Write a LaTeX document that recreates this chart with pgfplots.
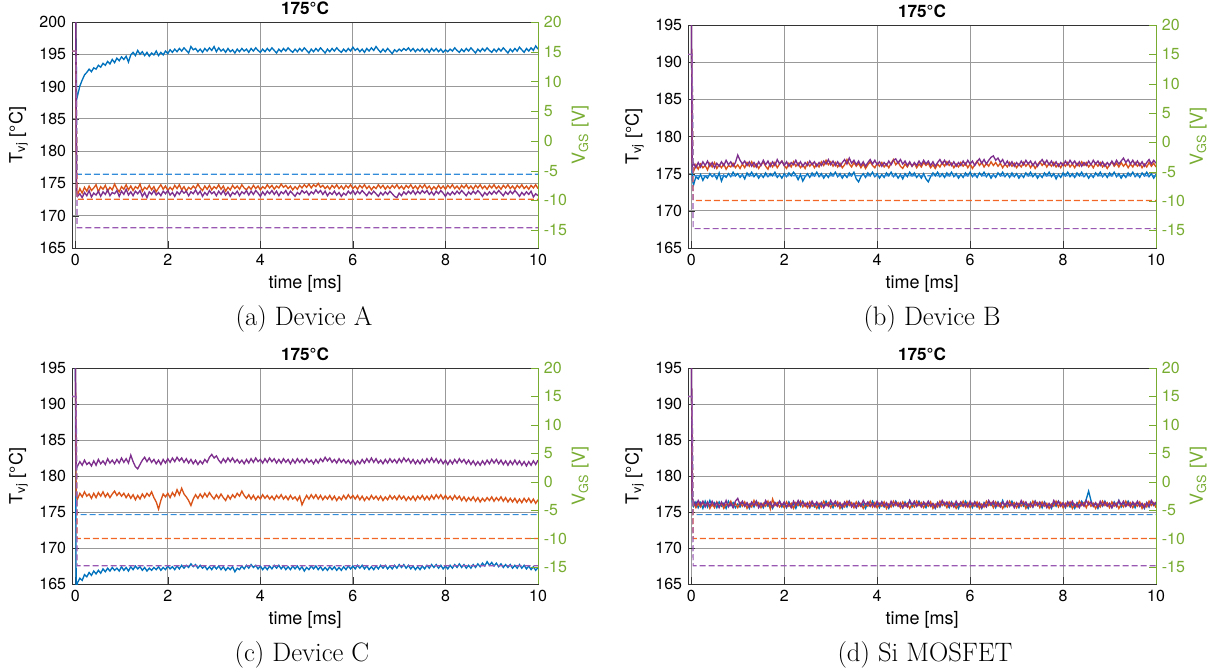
\documentclass[border=0pt]{standalone}
\usepackage{pgfplots}
\usepackage{pgfplotstable}
\pgfplotsset{compat=1.18}
\usepackage{fontspec}
\newfontfamily\hv{TeX Gyre Heros}
\newcommand\tickfont{\hv\fontsize{9.6}{11}\selectfont}
\newcommand\labfont{\hv\fontsize{10.8}{12}\selectfont}
\newcommand\titfont{\hv\bfseries\fontsize{10.3}{12}\selectfont}
\newcommand\capfont{\fontsize{16}{19}\selectfont}
\definecolor{mblue}{rgb}{0,0.447,0.741}
\definecolor{morange}{rgb}{0.85,0.325,0.098}
\definecolor{mpurple}{rgb}{0.494,0.184,0.556}
\definecolor{vgreen}{rgb}{0.466,0.674,0.188}
\definecolor{dblue}{rgb}{0.2,0.55,0.85}
\definecolor{dorange}{rgb}{0.95,0.4,0.15}
\definecolor{dpurple}{rgb}{0.6,0.35,0.7}

\pgfplotstableread{
t b o p
0.00 212 212 212
0.03 188.0 173.6 173.9
0.05 188.6 173.2 173.0
0.10 190.1 174.2 173.4
0.15 191.0 173.5 172.8
0.20 191.8 174.4 173.6
0.25 192.2 173.8 173.1
0.30 192.7 174.6 173.9
0.35 192.3 173.9 172.9
0.40 192.9 174.3 173.5
0.45 192.7 174.8 173.2
0.50 193.3 173.7 173.8
0.55 193.0 174.5 173.0
0.60 193.6 174.1 173.7
0.65 193.3 174.7 173.3
0.70 193.9 173.8 174.0
0.75 193.5 174.4 173.1
0.80 194.2 174.0 173.6
0.85 193.7 174.9 173.4
0.90 194.4 174.2 173.9
0.95 194.0 173.7 173.0
1.00 194.6 174.5 173.8
1.05 194.2 174.1 173.3
1.10 194.7 174.8 174.1
1.15 193.8 174.0 173.2
1.20 194.9 174.6 173.7
1.25 195.3 173.9 173.1
1.30 194.8 174.5 173.8
1.35 195.6 174.2 173.4
1.40 195.0 174.9 173.9
1.45 195.4 173.8 173.0
1.50 194.8 174.4 173.6
1.55 195.3 174.1 172.8
1.60 194.7 174.7 173.7
1.65 195.2 174.0 173.3
1.70 194.9 174.5 173.9
1.75 195.5 173.7 173.2
1.80 194.8 174.3 173.6
1.85 195.3 174.8 173.1
1.90 194.9 174.1 173.8
1.95 195.5 174.6 173.4
2.00 195.1 173.9 173.9
2.05 195.7 174.4 173.2
2.10 195.3 174.0 173.6
2.15 195.8 174.7 173.0
2.20 195.4 174.2 173.7
2.25 195.9 174.8 173.3
2.30 195.5 174.0 173.9
2.35 196.0 174.5 173.5
2.40 195.6 173.8 173.8
2.45 195.2 174.4 173.1
2.50 196.2 174.1 173.7
2.55 195.7 174.6 173.4
2.60 195.9 174.2 174.0
2.65 195.4 174.9 173.3
2.70 195.8 174.3 173.8
2.75 195.3 173.9 173.0
2.80 195.9 174.6 173.6
2.85 195.5 174.1 173.2
2.90 196.0 174.7 173.9
2.95 195.6 174.0 173.4
3.00 196.2 174.5 173.7
3.05 195.4 174.2 173.1
3.10 196.0 174.8 173.8
3.15 195.5 174.1 173.3
3.20 195.8 174.6 173.9
3.25 195.3 173.8 173.2
3.30 195.9 174.4 173.7
3.35 195.4 174.0 173.0
3.40 195.7 174.7 173.6
3.45 195.2 174.2 173.3
3.50 195.8 174.6 173.8
3.55 195.4 174.1 173.1
3.60 195.9 174.8 173.7
3.65 195.5 174.3 173.4
3.70 195.8 174.0 173.9
3.75 195.3 174.5 173.2
3.80 195.9 174.1 173.8
3.85 195.5 174.7 173.3
3.90 196.0 174.2 173.9
3.95 195.6 174.6 173.5
4.00 195.3 174.0 173.0
4.05 195.8 174.5 173.7
4.10 195.4 174.2 173.2
4.15 195.9 174.8 173.8
4.20 195.5 174.3 173.4
4.25 196.0 174.7 173.9
4.30 195.6 174.1 173.3
4.35 195.2 174.6 173.8
4.40 195.8 174.3 173.1
4.45 195.4 174.9 173.7
4.50 195.9 174.4 173.4
4.55 195.5 174.7 173.9
4.60 196.0 174.2 173.2
4.65 195.6 174.6 173.8
4.70 195.3 174.0 173.4
4.75 195.8 174.5 173.0
4.80 195.4 174.1 173.6
4.85 195.9 174.7 173.3
4.90 195.5 174.3 173.9
4.95 196.0 174.8 173.5
5.00 195.6 174.4 173.8
5.05 195.2 174.9 173.2
5.10 195.8 174.3 173.7
5.15 195.4 174.8 173.4
5.20 195.9 174.5 174.0
5.25 195.5 175.0 173.5
5.30 196.0 174.4 173.9
5.35 195.6 174.7 173.3
5.40 195.2 174.2 173.8
5.45 195.8 174.6 173.1
5.50 195.4 174.1 173.6
5.55 195.9 174.7 173.3
5.60 195.5 174.3 173.8
5.65 196.0 174.8 173.2
5.70 195.6 174.2 173.6
5.75 195.3 174.6 173.0
5.80 195.8 174.1 173.5
5.85 195.4 174.7 173.2
5.90 195.9 174.3 173.8
5.95 195.5 174.8 173.4
6.00 196.1 174.2 173.9
6.05 195.6 174.6 173.3
6.10 195.9 174.1 173.8
6.15 195.4 174.7 173.4
6.20 195.8 174.3 173.9
6.25 195.3 174.8 173.5
6.30 195.9 174.2 173.1
6.35 195.5 174.6 173.7
6.40 196.0 174.0 173.3
6.45 195.6 174.5 173.8
6.50 196.2 174.2 173.4
6.55 195.7 174.8 173.0
6.60 195.3 174.3 173.6
6.65 195.8 174.7 173.2
6.70 195.4 174.1 173.7
6.75 195.9 174.6 173.3
6.80 195.5 174.2 173.8
6.85 195.1 174.7 173.4
6.90 195.7 174.3 173.0
6.95 195.4 174.8 172.8
7.00 195.8 174.2 173.5
7.05 195.5 174.6 173.1
7.10 195.9 174.1 173.7
7.15 195.6 174.7 173.3
7.20 196.0 174.3 173.8
7.25 195.5 174.8 173.4
7.30 195.9 174.2 173.9
7.35 195.4 174.6 173.3
7.40 195.8 174.1 173.8
7.45 195.5 174.7 173.4
7.50 195.9 174.3 173.9
7.55 195.4 174.8 173.5
7.60 195.8 174.2 173.9
7.65 195.3 174.6 173.3
7.70 195.9 174.0 173.7
7.75 195.5 174.5 173.2
7.80 195.9 174.1 173.8
7.85 195.4 174.7 173.4
7.90 195.8 174.2 173.9
7.95 195.3 174.6 173.5
8.00 195.7 174.1 173.0
8.05 195.4 174.7 173.6
8.10 195.8 174.3 173.2
8.15 195.5 174.8 173.7
8.20 196.0 174.2 173.3
8.25 195.6 174.6 173.8
8.30 195.3 174.1 173.4
8.35 195.8 174.7 173.9
8.40 195.4 174.3 173.5
8.45 195.9 174.8 173.1
8.50 195.5 174.2 173.7
8.55 196.0 174.6 173.3
8.60 195.6 174.1 173.8
8.65 195.2 174.7 173.4
8.70 195.8 174.3 173.9
8.75 195.4 174.8 173.5
8.80 195.9 174.2 173.0
8.85 195.5 174.6 173.6
8.90 196.0 174.1 173.2
8.95 195.6 174.7 173.7
9.00 195.3 174.3 173.3
9.05 195.8 174.8 173.8
9.10 195.4 174.2 173.4
9.15 195.9 174.6 173.9
9.20 195.5 174.1 173.5
9.25 196.0 174.7 173.1
9.30 195.6 174.3 173.7
9.35 195.2 174.8 173.3
9.40 195.8 174.2 173.8
9.45 195.4 174.6 173.4
9.50 195.9 174.1 173.9
9.55 195.5 174.7 173.5
9.60 196.1 174.3 173.0
9.65 195.7 174.8 173.6
9.70 195.3 174.2 173.2
9.75 195.9 174.6 173.7
9.80 195.5 174.1 173.3
9.85 196.0 174.7 173.8
9.90 195.6 174.3 172.9
9.95 196.3 174.8 173.4
10.00 195.8 174.2 173.1
}\tA

\pgfplotstableread{
t b o p
0.00 200 200 200
0.02 174.2 175.6 175.9
0.05 173.5 175.3 176.4
0.10 174.6 176.2 175.8
0.15 174.3 175.6 176.5
0.20 174.9 176.3 175.9
0.25 174.1 175.8 176.6
0.30 174.7 176.1 176.1
0.35 174.4 175.5 176.7
0.40 175.0 176.4 176.0
0.45 174.6 175.9 176.5
0.50 174.9 176.5 175.8
0.55 174.3 175.7 176.4
0.60 175.1 176.2 176.0
0.65 174.0 175.8 176.6
0.70 174.8 176.3 176.1
0.75 174.5 175.6 176.8
0.80 175.0 176.1 176.2
0.85 174.6 175.9 176.6
0.90 175.2 176.4 176.0
0.95 174.7 175.8 176.5
1.00 175.0 176.2 177.5
1.05 174.5 175.7 176.8
1.10 174.9 176.3 176.3
1.15 174.3 175.8 176.7
1.20 175.1 176.5 176.1
1.25 174.7 176.0 176.6
1.30 175.2 176.6 176.0
1.35 174.6 175.9 176.5
1.40 175.0 176.3 175.9
1.45 174.4 175.7 176.6
1.50 174.9 176.2 176.1
1.55 174.5 176.6 176.8
1.60 175.1 176.0 176.2
1.65 174.6 175.6 176.7
1.70 175.0 176.4 176.0
1.75 174.7 175.9 176.6
1.80 175.2 176.5 176.1
1.85 174.5 175.8 176.9
1.90 174.9 176.3 176.3
1.95 174.4 176.7 176.7
2.00 175.0 176.1 176.1
2.05 174.6 175.7 176.6
2.10 175.1 176.4 176.0
2.15 174.7 175.9 176.5
2.20 175.2 176.6 176.2
2.25 174.8 176.0 176.8
2.30 174.2 176.4 176.1
2.35 174.9 175.8 176.6
2.40 174.0 176.2 176.0
2.45 174.6 175.7 176.5
2.50 175.0 176.5 176.1
2.55 174.5 176.0 176.7
2.60 175.1 176.4 176.2
2.65 174.7 175.8 176.6
2.70 175.2 176.3 176.0
2.75 174.6 175.9 176.5
2.80 175.0 176.6 176.1
2.85 174.4 176.1 176.7
2.90 174.9 176.8 176.3
2.95 174.5 176.2 176.9
3.00 175.1 176.6 176.2
3.05 174.7 176.0 176.7
3.10 175.2 176.5 176.1
3.15 174.6 175.9 176.6
3.20 175.0 176.4 176.0
3.25 174.4 175.8 176.5
3.30 174.9 176.2 176.9
3.35 174.5 176.9 176.3
3.40 175.1 176.3 177.1
3.45 174.7 175.9 176.4
3.50 175.2 176.5 176.8
3.55 174.3 176.0 176.2
3.60 173.9 176.4 176.7
3.65 174.6 175.8 176.1
3.70 175.0 176.3 176.6
3.75 174.5 175.7 176.0
3.80 175.1 176.2 176.5
3.85 174.7 176.6 176.9
3.90 175.2 176.1 176.3
3.95 174.6 175.8 176.8
4.00 175.0 176.4 176.2
4.05 174.4 176.0 176.6
4.10 174.9 176.5 176.0
4.15 174.5 175.9 176.5
4.20 175.1 176.3 176.1
4.25 174.7 175.8 176.7
4.30 175.2 176.4 176.2
4.35 174.6 176.9 176.8
4.40 175.0 176.2 177.0
4.45 174.4 176.6 176.4
4.50 174.9 176.0 176.9
4.55 174.3 175.7 176.3
4.60 175.0 176.3 176.7
4.65 174.6 175.9 176.1
4.70 175.2 176.5 176.6
4.75 174.7 176.0 176.0
4.80 175.1 176.4 176.5
4.85 174.5 175.8 176.1
4.90 174.9 176.3 176.7
4.95 174.4 175.9 176.2
5.00 175.0 176.5 176.8
5.05 174.3 176.1 176.3
5.10 173.9 176.4 176.7
5.15 174.6 175.8 176.1
5.20 175.1 176.2 176.6
5.25 174.7 175.7 176.0
5.30 175.2 176.3 176.5
5.35 174.6 175.9 176.9
5.40 175.0 176.5 176.3
5.45 174.5 176.0 176.8
5.50 175.1 176.6 176.2
5.55 174.7 176.1 176.7
5.60 175.2 176.4 176.1
5.65 174.6 175.8 176.6
5.70 175.0 176.3 176.0
5.75 174.4 175.9 176.5
5.80 174.9 176.5 176.1
5.85 174.5 176.0 176.7
5.90 175.1 176.4 176.2
5.95 174.7 175.8 176.8
6.00 175.2 176.3 176.3
6.05 174.6 175.7 176.7
6.10 175.0 176.2 176.1
6.15 174.5 176.7 176.6
6.20 175.1 176.1 177.0
6.25 174.7 176.5 176.4
6.30 175.2 175.9 176.9
6.35 174.6 176.4 176.3
6.40 175.0 176.0 176.8
6.45 174.4 176.6 177.2
6.50 174.9 176.1 177.4
6.55 174.5 176.5 176.8
6.60 175.1 176.0 177.1
6.65 174.7 176.4 176.5
6.70 175.2 175.8 176.9
6.75 174.6 176.3 176.2
6.80 175.0 175.9 176.7
6.85 174.5 176.5 176.1
6.90 175.1 176.0 176.6
6.95 174.6 176.4 176.0
7.00 175.0 175.8 176.5
7.05 174.4 176.3 176.1
7.10 174.9 175.9 176.7
7.15 174.5 176.5 176.2
7.20 175.1 176.0 176.8
7.25 174.7 176.4 176.3
7.30 175.2 175.8 176.7
7.35 174.6 176.3 176.1
7.40 175.0 175.7 176.6
7.45 174.4 176.2 176.0
7.50 174.9 176.6 176.5
7.55 174.5 176.1 176.9
7.60 175.1 176.5 176.3
7.65 174.7 175.9 176.8
7.70 175.2 176.4 176.2
7.75 174.6 176.0 176.7
7.80 175.0 176.5 176.1
7.85 174.3 175.9 176.6
7.90 174.9 176.3 176.0
7.95 174.5 175.8 176.5
8.00 175.1 176.4 176.1
8.05 174.7 176.0 176.7
8.10 175.2 176.5 176.2
8.15 174.6 175.9 176.8
8.20 175.0 176.3 176.3
8.25 174.5 175.8 176.7
8.30 175.1 176.4 176.1
8.35 174.7 176.0 176.6
8.40 175.2 176.6 176.0
8.45 174.6 176.1 176.5
8.50 175.0 176.5 176.1
8.55 174.4 175.9 176.7
8.60 174.9 176.3 176.2
8.65 174.5 175.8 176.8
8.70 175.1 176.4 176.3
8.75 174.7 176.0 176.7
8.80 175.2 176.5 176.1
8.85 174.6 175.9 176.6
8.90 175.0 176.3 176.0
8.95 174.5 175.7 176.5
9.00 175.1 176.2 176.1
9.05 174.7 176.6 176.7
9.10 175.2 176.0 176.2
9.15 174.6 176.4 176.8
9.20 175.0 175.9 176.3
9.25 174.4 176.5 176.7
9.30 174.9 176.0 177.1
9.35 174.5 176.4 176.5
9.40 175.1 175.8 176.9
9.45 174.7 176.3 176.3
9.50 175.2 175.9 176.8
9.55 174.6 176.5 176.2
9.60 175.0 176.0 176.7
9.65 174.5 176.4 176.1
9.70 175.1 175.8 176.6
9.75 174.7 176.3 176.0
9.80 175.2 175.9 176.5
9.85 174.6 176.5 176.9
9.90 175.0 176.0 176.3
9.95 174.4 176.4 176.8
10.00 174.9 175.9 176.4
}\tB

\pgfplotstableread{
t b o p
0.00 200 200 200
0.02 164.0 177.3 181.0
0.05 165.2 176.8 181.4
0.10 165.8 177.6 182.0
0.15 165.5 177.1 181.5
0.20 166.3 177.8 182.2
0.25 166.0 177.2 181.6
0.30 166.6 177.5 181.9
0.35 166.2 176.9 181.4
0.40 166.8 177.6 182.1
0.45 166.4 177.0 181.5
0.50 166.9 177.7 182.3
0.55 166.5 177.2 181.7
0.60 167.1 177.8 182.1
0.65 166.7 177.1 181.6
0.70 167.2 177.6 182.4
0.75 166.8 177.0 181.8
0.80 167.3 177.5 182.2
0.85 166.9 177.9 181.7
0.90 167.2 177.3 182.3
0.95 166.8 177.7 181.8
1.00 167.4 177.2 182.5
1.05 166.9 177.6 181.9
1.10 167.3 177.0 182.4
1.15 166.8 177.5 181.8
1.20 167.4 176.9 182.9
1.25 167.0 177.4 182.0
1.30 167.5 176.7 181.3
1.35 167.1 177.3 181.0
1.40 167.4 176.8 181.6
1.45 166.9 177.5 182.2
1.50 167.3 177.0 182.6
1.55 166.8 177.6 182.0
1.60 167.2 177.2 182.5
1.65 166.9 177.8 181.9
1.70 167.3 177.0 182.3
1.75 167.0 176.4 181.7
1.80 167.4 175.4 182.2
1.85 166.9 176.6 181.6
1.90 167.3 177.5 182.3
1.95 167.0 177.1 181.8
2.00 167.5 177.6 182.4
2.05 167.1 177.0 181.9
2.10 167.4 177.7 182.5
2.15 167.0 177.2 182.0
2.20 167.5 178.1 182.6
2.25 167.1 177.4 182.1
2.30 167.6 178.3 182.5
2.35 167.2 177.5 181.9
2.40 167.6 177.1 182.4
2.45 167.3 176.6 181.8
2.50 167.8 175.9 182.3
2.55 167.4 176.8 181.7
2.60 167.7 177.4 182.2
2.65 167.2 176.9 181.6
2.70 167.6 177.5 182.1
2.75 167.2 177.0 181.7
2.80 167.5 177.6 182.3
2.85 167.0 177.1 181.9
2.90 167.4 177.7 182.6
2.95 167.0 177.2 183.0
3.00 167.5 176.8 182.5
3.05 167.1 177.4 182.8
3.10 167.5 176.9 182.2
3.15 167.0 177.5 181.8
3.20 167.4 177.0 182.4
3.25 166.9 176.6 181.9
3.30 167.3 177.3 182.5
3.35 167.0 176.8 182.0
3.40 167.4 177.4 182.5
3.45 166.7 177.0 181.9
3.50 167.2 177.6 182.3
3.55 167.0 177.2 181.8
3.60 167.5 177.9 182.2
3.65 167.1 177.3 181.7
3.70 167.6 176.9 182.3
3.75 167.2 177.4 181.8
3.80 167.7 176.8 182.4
3.85 167.3 177.3 181.9
3.90 167.6 176.7 182.5
3.95 167.1 177.2 182.0
4.00 167.5 176.8 182.3
4.05 167.0 177.4 181.8
4.10 167.4 176.9 182.4
4.15 167.0 177.3 181.9
4.20 167.5 176.8 182.5
4.25 167.1 177.2 182.0
4.30 167.6 176.7 182.4
4.35 167.2 177.3 181.8
4.40 167.6 176.9 182.3
4.45 167.1 177.4 181.8
4.50 167.5 176.8 182.4
4.55 167.0 177.2 181.9
4.60 167.4 176.7 182.3
4.65 167.0 177.3 181.7
4.70 167.5 176.8 182.3
4.75 167.1 177.1 181.8
4.80 167.5 176.6 182.4
4.85 167.0 177.2 181.9
4.90 167.4 176.0 182.3
4.95 166.8 176.7 181.8
5.00 167.3 177.3 182.4
5.05 167.0 176.8 181.9
5.10 167.5 177.4 182.2
5.15 167.1 176.9 181.7
5.20 167.5 177.4 182.3
5.25 167.0 176.8 181.8
5.30 167.4 177.3 182.4
5.35 166.9 176.7 182.0
5.40 167.3 177.2 182.6
5.45 166.9 176.8 182.1
5.50 167.4 177.3 182.5
5.55 167.0 176.7 181.9
5.60 167.4 177.2 182.3
5.65 166.9 176.6 181.8
5.70 167.3 177.1 182.4
5.75 166.9 176.7 181.9
5.80 167.4 177.3 182.3
5.85 167.0 176.8 181.8
5.90 167.5 177.4 182.2
5.95 167.1 176.9 181.7
6.00 167.5 177.3 182.2
6.05 167.1 176.8 181.6
6.10 167.6 177.3 182.1
6.15 167.2 176.7 181.7
6.20 167.6 177.2 182.3
6.25 167.1 176.6 181.8
6.30 167.5 177.1 182.4
6.35 167.0 176.7 181.9
6.40 167.4 177.3 182.5
6.45 167.0 176.8 181.9
6.50 167.5 177.2 182.4
6.55 167.1 176.7 181.8
6.60 167.6 177.2 182.2
6.65 167.2 176.6 181.7
6.70 167.6 177.1 182.3
6.75 167.1 176.7 181.8
6.80 167.5 177.3 182.4
6.85 167.1 176.8 181.9
6.90 167.6 177.2 182.3
6.95 167.2 176.7 181.8
7.00 167.7 177.3 182.4
7.05 167.3 176.8 181.9
7.10 167.7 177.2 182.5
7.15 167.2 176.6 182.0
7.20 167.6 177.1 182.4
7.25 167.1 176.7 181.8
7.30 167.5 177.2 182.3
7.35 167.0 176.6 181.7
7.40 167.4 177.2 182.2
7.45 167.0 176.8 181.7
7.50 167.5 177.3 182.3
7.55 167.1 176.7 181.8
7.60 167.6 177.2 182.4
7.65 167.2 176.7 181.9
7.70 167.7 177.3 182.5
7.75 167.3 176.8 181.9
7.80 167.7 177.4 182.4
7.85 167.2 176.9 181.8
7.90 167.6 177.4 182.3
7.95 167.1 176.8 181.7
8.00 167.5 177.3 182.2
8.05 167.1 176.8 181.6
8.10 167.6 177.2 182.2
8.15 167.2 176.7 181.7
8.20 167.7 177.3 182.3
8.25 167.3 176.8 181.8
8.30 167.8 177.2 182.4
8.35 167.3 176.6 181.9
8.40 167.7 177.1 182.3
8.45 167.2 176.5 181.7
8.50 167.6 177.0 182.2
8.55 167.2 176.6 181.6
8.60 167.7 177.1 182.1
8.65 167.3 176.5 181.5
8.70 167.8 177.0 182.0
8.75 167.4 176.4 181.5
8.80 167.9 176.9 182.1
8.85 167.5 176.5 181.6
8.90 168.1 177.0 182.2
8.95 167.6 176.6 181.7
9.00 168.0 177.1 182.3
9.05 167.5 176.5 181.8
9.10 167.9 177.0 182.3
9.15 167.4 176.6 181.7
9.20 167.8 177.1 182.2
9.25 167.3 176.5 181.6
9.30 167.7 177.0 182.1
9.35 167.3 176.4 181.5
9.40 167.7 176.9 182.1
9.45 167.2 176.4 181.6
9.50 167.6 176.9 182.2
9.55 167.2 176.3 181.6
9.60 167.7 176.8 182.1
9.65 167.2 176.3 181.5
9.70 167.6 176.9 182.0
9.75 167.1 176.4 181.4
9.80 167.5 176.9 182.0
9.85 167.0 176.3 181.5
9.90 167.4 176.8 182.1
9.95 166.9 176.2 181.6
10.00 167.3 176.7 182.2
}\tC

\pgfplotstableread{
t b o p
0.00 200 200 200
0.02 176.5 176.8 177.0
0.05 175.8 176.3 176.5
0.10 176.4 175.6 175.9
0.15 175.6 176.2 176.6
0.20 176.3 175.7 176.0
0.25 175.5 176.4 176.5
0.30 176.5 175.8 175.7
0.35 175.7 176.3 176.4
0.40 176.6 175.5 175.8
0.45 175.9 176.1 176.5
0.50 176.3 175.6 175.9
0.55 175.6 176.4 176.3
0.60 176.4 175.8 175.6
0.65 175.8 176.2 176.4
0.70 176.2 175.5 175.9
0.75 175.5 176.1 176.6
0.80 176.5 175.9 175.7
0.85 175.9 176.5 176.2
0.90 176.3 175.7 175.6
0.95 175.6 176.2 176.5
1.00 176.1 175.6 176.9
1.05 175.7 176.3 176.0
1.10 176.4 175.8 176.5
1.15 175.8 176.4 175.8
1.20 176.2 175.5 176.3
1.25 175.5 176.1 175.7
1.30 176.3 175.7 176.4
1.35 175.7 176.6 175.9
1.40 176.5 175.9 176.5
1.45 175.9 176.3 175.6
1.50 176.2 175.6 176.2
1.55 175.6 176.2 175.8
1.60 176.4 175.8 176.6
1.65 175.8 176.5 176.0
1.70 176.1 175.4 176.4
1.75 175.5 176.8 175.7
1.80 176.3 175.9 176.3
1.85 175.9 176.3 175.8
1.90 176.5 175.7 176.5
1.95 175.7 176.1 175.9
2.00 176.2 175.6 176.4
2.05 175.6 176.4 175.7
2.10 176.4 175.8 176.2
2.15 175.8 176.2 175.6
2.20 176.1 175.5 176.5
2.25 175.5 176.3 175.9
2.30 176.3 175.9 176.6
2.35 175.8 176.5 176.0
2.40 176.5 175.7 176.4
2.45 175.9 176.2 175.8
2.50 176.2 175.6 176.3
2.55 175.6 176.4 175.7
2.60 176.4 175.8 176.5
2.65 175.7 176.1 175.9
2.70 176.1 175.5 176.4
2.75 175.5 176.2 175.8
2.80 176.3 175.7 176.3
2.85 175.8 176.5 175.6
2.90 176.5 175.9 176.2
2.95 175.9 176.3 175.8
3.00 176.2 175.6 176.6
3.05 175.6 176.2 176.0
3.10 176.4 175.8 176.5
3.15 175.8 176.4 175.8
3.20 176.1 175.5 176.3
3.25 175.5 176.1 175.7
3.30 176.3 175.7 176.4
3.35 175.7 176.5 175.9
3.40 176.5 175.9 176.5
3.45 175.9 176.3 175.7
3.50 176.2 175.6 176.2
3.55 175.6 176.4 175.6
3.60 176.4 175.8 176.3
3.65 175.8 176.2 175.8
3.70 176.1 175.5 176.6
3.75 175.5 176.1 176.0
3.80 176.3 175.8 176.4
3.85 175.8 176.5 175.8
3.90 176.5 175.7 176.2
3.95 175.9 176.3 175.7
4.00 176.2 175.6 176.5
4.05 175.6 176.2 175.9
4.10 176.4 175.8 176.4
4.15 175.7 176.4 175.8
4.20 176.1 175.5 176.3
4.25 175.5 176.1 175.7
4.30 176.3 175.7 176.5
4.35 175.8 176.5 175.9
4.40 176.5 175.9 176.4
4.45 175.9 176.3 175.8
4.50 176.2 175.6 176.3
4.55 175.6 176.4 175.6
4.60 176.4 175.8 176.2
4.65 175.8 176.2 175.7
4.70 176.6 175.5 176.6
4.75 175.7 176.1 176.0
4.80 176.3 175.7 176.5
4.85 175.8 176.5 175.8
4.90 176.5 175.9 176.3
4.95 175.9 176.3 175.7
5.00 176.2 175.6 176.4
5.05 175.6 176.2 175.9
5.10 176.4 175.8 176.5
5.15 175.8 176.4 175.8
5.20 176.1 175.5 176.2
5.25 175.5 176.1 175.6
5.30 176.3 175.7 176.3
5.35 175.7 176.5 175.8
5.40 176.5 175.9 176.6
5.45 175.9 176.3 176.0
5.50 176.2 175.6 176.4
5.55 175.6 176.4 175.8
5.60 176.4 175.8 176.3
5.65 175.8 176.2 175.7
5.70 176.1 175.5 176.5
5.75 175.5 176.1 175.9
5.80 176.3 175.8 176.4
5.85 175.8 176.5 175.8
5.90 176.5 175.7 176.2
5.95 175.9 176.3 175.7
6.00 176.2 175.6 176.5
6.05 175.6 176.2 175.9
6.10 176.4 175.8 176.4
6.15 175.7 176.4 175.8
6.20 176.1 175.5 176.3
6.25 175.5 176.1 175.6
6.30 176.3 175.7 176.2
6.35 175.8 176.5 175.7
6.40 176.5 175.9 176.6
6.45 175.9 176.3 176.0
6.50 176.2 175.6 176.5
6.55 175.6 176.4 175.8
6.60 176.4 175.8 176.3
6.65 175.8 176.2 175.7
6.70 176.6 175.5 176.4
6.75 175.7 176.1 175.9
6.80 176.3 175.7 176.5
6.85 175.8 176.5 175.8
6.90 176.5 175.9 176.2
6.95 175.9 176.3 175.6
7.00 176.2 175.6 176.3
7.05 175.6 176.2 175.8
7.10 176.4 175.8 176.6
7.15 175.8 176.4 176.0
7.20 176.1 175.5 176.4
7.25 175.5 176.1 175.8
7.30 176.3 175.7 176.2
7.35 175.7 176.5 175.7
7.40 176.5 175.9 176.5
7.45 175.9 176.3 175.9
7.50 176.2 175.6 176.4
7.55 175.6 176.4 175.8
7.60 176.4 175.8 176.3
7.65 175.8 176.2 175.6
7.70 176.1 175.5 176.2
7.75 175.5 176.1 175.7
7.80 176.3 175.8 176.6
7.85 175.8 176.5 176.0
7.90 176.5 175.7 176.5
7.95 175.9 176.3 175.8
8.00 176.2 175.6 176.3
8.05 175.6 176.2 175.7
8.10 176.4 175.8 176.4
8.15 175.7 176.4 175.9
8.20 176.1 175.5 176.5
8.25 175.5 176.1 175.8
8.30 176.3 175.7 176.2
8.35 175.8 176.5 175.6
8.40 176.5 175.9 176.3
8.45 176.0 176.3 175.8
8.50 176.8 175.6 176.6
8.55 177.9 176.4 176.0
8.60 176.6 175.8 176.4
8.65 175.8 176.2 175.8
8.70 176.2 175.5 176.3
8.75 175.5 176.1 175.7
8.80 176.3 175.7 176.5
8.85 175.8 176.5 175.9
8.90 176.5 175.9 176.4
8.95 175.9 176.3 175.8
9.00 176.2 175.6 176.2
9.05 175.6 176.4 175.6
9.10 176.4 175.8 176.3
9.15 175.8 176.2 175.8
9.20 176.6 175.5 176.6
9.25 175.7 176.1 176.0
9.30 176.3 175.7 176.5
9.35 175.8 176.5 175.8
9.40 176.5 175.9 176.3
9.45 175.9 176.3 175.7
9.50 176.2 175.6 176.4
9.55 175.6 176.2 175.9
9.60 176.4 175.8 176.5
9.65 175.8 176.4 175.8
9.70 176.1 175.5 176.2
9.75 175.5 176.1 175.6
9.80 176.3 175.7 176.3
9.85 175.7 176.5 175.8
9.90 176.5 175.9 176.6
9.95 175.9 176.3 176.0
10.00 176.2 175.6 176.4
}\tD

\pgfplotsset{
  leftax/.style={scale only axis, xmin=-0.07, xmax=10, xtick={0,2,...,10},
    ytick distance=5, grid=major, major grid style={black!40, line width=0.5pt},
    tick align=inside, ytick pos=left, xtick pos=bottom,
    axis line style={black!80, line width=0.6pt}, tick style={black!80},
    ticklabel style={font=\tickfont}, label style={font=\labfont},
    title style={font=\titfont, yshift=-5pt},
    xlabel={time [ms]}, ylabel={T\textsubscript{vj} [°C]}, title={175°C},
    xlabel style={yshift=1pt}, ylabel style={yshift=0pt},
    /pgf/number format/assume math mode=true},
  rightax/.style={scale only axis, xmin=-0.07, xmax=10, ymin=-18, ymax=20,
    ytick={-15,-10,...,20}, axis y line*=right, axis x line=none,
    tick align=inside, y axis line style={vgreen, line width=0.6pt},
    ytick style={vgreen}, yticklabel style={vgreen, font=\tickfont},
    ylabel={V\textsubscript{GS} [V]}, ylabel style={vgreen, font=\labfont, yshift=4pt},
    /pgf/number format/assume math mode=true},
  sl/.style={line width=0.8pt},
  dl/.style={line width=0.7pt, dash pattern=on 3.6pt off 1.8pt},
}

\begin{document}
\begin{tikzpicture}
\useasboundingbox (0,0) rectangle (727.8pt,-402pt);
% (a)
\begin{axis}[leftax, at={(72*0.6pt,-22*0.6pt)}, anchor=north west, width=466*0.6pt, height=226*0.6pt, ymin=165, ymax=200]
\addplot[sl, mblue] table[x=t, y=b] {\tA};
\addplot[sl, morange] table[x=t, y=o] {\tA};
\addplot[sl, mpurple] table[x=t, y=p] {\tA};
\end{axis}
\begin{axis}[rightax, at={(72*0.6pt,-22*0.6pt)}, anchor=north west, width=466*0.6pt, height=226*0.6pt]
\addplot[dl, dblue] coordinates {(-0.07,15.1) (0.02,15.1) (0.04,-5.6) (10,-5.6)};
\addplot[dl, dorange] coordinates {(-0.07,15.1) (0.02,15.1) (0.04,-9.8) (10,-9.8)};
\addplot[dl, dpurple] coordinates {(-0.07,15.1) (0.02,15.1) (0.04,-14.6) (10,-14.6)};
\end{axis}
\node[font=\capfont] at (304*0.6pt,-319*0.6pt) {(a) Device A};
% (b)
\begin{axis}[leftax, at={(688*0.6pt,-25*0.6pt)}, anchor=north west, width=468*0.6pt, height=223*0.6pt, ymin=165, ymax=195]
\addplot[sl, mblue] table[x=t, y=b] {\tB};
\addplot[sl, morange] table[x=t, y=o] {\tB};
\addplot[sl, mpurple] table[x=t, y=p] {\tB};
\end{axis}
\begin{axis}[rightax, at={(688*0.6pt,-25*0.6pt)}, anchor=north west, width=468*0.6pt, height=223*0.6pt]
\addplot[dl, dblue] coordinates {(-0.07,15) (0.02,15) (0.04,-5.7) (10,-5.7)};
\addplot[dl, dorange] coordinates {(-0.07,15) (0.02,15) (0.04,-9.9) (10,-9.9)};
\addplot[dl, dpurple] coordinates {(-0.07,15) (0.02,15) (0.04,-14.7) (10,-14.7)};
\end{axis}
\node[font=\capfont] at (932*0.6pt,-319*0.6pt) {(b) Device B};
% (c)
\begin{axis}[leftax, at={(72*0.6pt,-368*0.6pt)}, anchor=north west, width=466*0.6pt, height=216*0.6pt, ymin=165, ymax=195]
\addplot[sl, mblue] table[x=t, y=b] {\tC};
\addplot[sl, morange] table[x=t, y=o] {\tC};
\addplot[sl, mpurple] table[x=t, y=p] {\tC};
\end{axis}
\begin{axis}[rightax, at={(72*0.6pt,-368*0.6pt)}, anchor=north west, width=466*0.6pt, height=216*0.6pt]
\addplot[dl, dblue] coordinates {(-0.07,15) (0.02,15) (0.04,-5.8) (10,-5.8)};
\addplot[dl, dorange] coordinates {(-0.07,15) (0.02,15) (0.04,-10) (10,-10)};
\addplot[dl, dpurple] coordinates {(-0.07,15) (0.02,15) (0.04,-14.8) (10,-14.8)};
\end{axis}
\node[font=\capfont] at (302*0.6pt,-655*0.6pt) {(c) Device C};
% (d)
\begin{axis}[leftax, at={(688*0.6pt,-368*0.6pt)}, anchor=north west, width=468*0.6pt, height=216*0.6pt, ymin=165, ymax=195]
\addplot[sl, mblue] table[x=t, y=b] {\tD};
\addplot[sl, morange] table[x=t, y=o] {\tD};
\addplot[sl, mpurple] table[x=t, y=p] {\tD};
\end{axis}
\begin{axis}[rightax, at={(688*0.6pt,-368*0.6pt)}, anchor=north west, width=468*0.6pt, height=216*0.6pt]
\addplot[dl, dblue] coordinates {(-0.07,15) (0.02,15) (0.04,-5.8) (10,-5.8)};
\addplot[dl, dorange] coordinates {(-0.07,15) (0.02,15) (0.04,-10) (10,-10)};
\addplot[dl, dpurple] coordinates {(-0.07,15) (0.02,15) (0.04,-14.8) (10,-14.8)};
\end{axis}
\node[font=\capfont] at (925*0.6pt,-655*0.6pt) {(d) Si MOSFET};
\end{tikzpicture}
\end{document}
